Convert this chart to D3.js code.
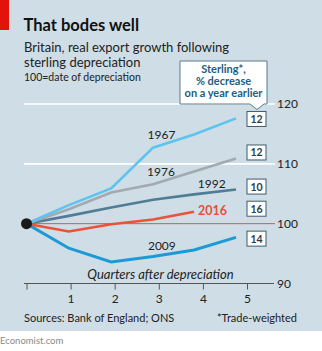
<!DOCTYPE html>
<html>
<head>
<meta charset="utf-8">
<script src="https://cdn.jsdelivr.net/npm/d3@7"></script>
<style>
	html, body { margin: 0; padding: 0; background: #fff; }
	svg { display: block; font-family: Lato, "Open Sans", sans-serif; }
</style>
</head>
<body>
<div id="chart"></div>
<script>
// Quarters after depreciation at which each reading sits
var quarters = [0, 0.96, 1.92, 2.87, 3.8, 4.75];

// Real exports, 100 = date of depreciation
var years = ["1967", "1976", "1992", "2016", "2009"];
var exports1967 = [100, 103.1, 105.9, 112.7, 114.9, 117.6];
var exports1976 = [100, 102.4, 105.2, 106.6, 108.7, 110.9];
var exports1992 = [100, 101.3, 102.7, 104.0, 104.9, 105.7];
var exports2016 = [100, 98.7, 99.9, 100.7, 102.0];
var exports2009 = [100, 95.9, 93.6, 94.5, 95.6, 97.7];

// Sterling, % decrease on a year earlier
var sterlingFall = [12, 12, 10, 16, 14];

var xTicks = [0, 1, 2, 3, 4, 5];
var yTicks = [90, 100, 110, 120];

(function(){

	var W = 322, H = 351;
	var series = [exports1967, exports1976, exports1992, exports2016, exports2009];

	var colors = {
		"1967": "#5cc4ee",
		"1976": "#a3a9b0",
		"1992": "#4f7c96",
		"2016": "#ea5338",
		"2009": "#1c9ad6"
	};

	// where the year names sit, in chart units
	var labelAt = {
		"1967": [3.06, 114.2],
		"1976": [3.05, 108.0],
		"1992": [4.2, 105.9],
		"2016": [4.22, 101.5],
		"2009": [3.07, 95.6]
	};
	// small vertical nudges for the sterling boxes
	var boxNudge = { "1967": -0.1, "1976": 1.0, "1992": 0.5, "2016": 0.5, "2009": -0.2 };

	var x = d3.scaleLinear().domain([0, 5]).range([26.5, 247]);
	var y = d3.scaleLinear().domain([90, 120]).range([283.5, 104]);

	var svg = d3.select("#chart").append("svg")
		.attr("width", W)
		.attr("height", H);

	// panel background and red tag
	svg.append("rect").attr("width", W).attr("height", 331).attr("fill", "#cfdde6");
	svg.append("rect").attr("width", 9).attr("height", 30).attr("fill", "#e3120b");

	svg.append("text").attr("x", 23.5).attr("y", 30.5)
		.attr("font-size", 16.5).attr("font-weight", "bold").attr("fill", "#111")
		.text("That bodes well");
	svg.append("text").attr("x", 24).attr("y", 52)
		.attr("font-size", 13).attr("fill", "#222")
		.text("Britain, real export growth following");
	svg.append("text").attr("x", 24).attr("y", 66.5)
		.attr("font-size", 13).attr("fill", "#222")
		.text("sterling depreciation");
	svg.append("text").attr("x", 24).attr("y", 81)
		.attr("font-size", 10.5).attr("fill", "#222")
		.text("100=date of depreciation");

	// white gridlines
	svg.selectAll("line.grid")
		.data([110, 120])
		.enter().append("line")
		.attr("class", "grid")
		.attr("x1", 24).attr("x2", 275)
		.attr("y1", function(d){ return y(d); })
		.attr("y2", function(d){ return y(d); })
		.attr("stroke", "#fff")
		.attr("stroke-width", 1.6);

	// 100 baseline
	svg.append("line")
		.attr("x1", x(0)).attr("x2", 275)
		.attr("y1", y(100)).attr("y2", y(100))
		.attr("stroke", "#e0534b")
		.attr("stroke-width", 1);

	// x axis
	svg.append("line")
		.attr("x1", 24).attr("x2", 274)
		.attr("y1", y(90)).attr("y2", y(90))
		.attr("stroke", "#555").attr("stroke-width", 1);

	var xAxis = d3.axisBottom(x)
		.tickValues(xTicks)
		.tickSize(6)
		.tickPadding(5)
		.tickFormat(function(d){ return d === 0 ? "" : d; });

	var gx = svg.append("g")
		.attr("transform", "translate(0," + y(90) + ")")
		.call(xAxis);
	gx.select(".domain").remove();
	gx.selectAll(".tick line").attr("stroke", "#555");
	gx.selectAll(".tick text")
		.attr("font-family", "Lato, sans-serif")
		.attr("font-size", 12)
		.attr("fill", "#222");

	svg.append("text").attr("x", 160.5).attr("y", 279)
		.attr("text-anchor", "middle")
		.attr("font-size", 13).attr("font-style", "italic").attr("fill", "#222")
		.text("Quarters after depreciation");

	// y axis labels on the right
	var yAxis = d3.axisRight(y).tickValues(yTicks).tickSize(0).tickPadding(0);
	var gy = svg.append("g")
		.attr("transform", "translate(277,0)")
		.call(yAxis);
	gy.select(".domain").remove();
	gy.selectAll(".tick text")
		.attr("font-family", "Lato, sans-serif")
		.attr("font-size", 12)
		.attr("fill", "#222");

	// export lines
	var line = d3.line()
		.x(function(d, i){ return x(quarters[i]); })
		.y(function(d){ return y(d); });

	var order = [4, 3, 2, 1, 0];
	order.forEach(function(i){
		svg.append("path")
			.datum(series[i])
			.attr("d", line)
			.attr("fill", "none")
			.attr("stroke", colors[years[i]])
			.attr("stroke-width", years[i] == "2009" ? 3 : 2.6)
			.attr("stroke-linejoin", "miter");
	});

	svg.append("circle")
		.attr("cx", x(quarters[0])).attr("cy", y(100))
		.attr("r", 5.5)
		.attr("fill", "#1a1a1a");

	// year names
	years.forEach(function(yr){
		svg.append("text")
			.attr("x", x(labelAt[yr][0]))
			.attr("y", y(labelAt[yr][1]))
			.attr("text-anchor", "middle")
			.attr("font-size", yr == "2016" ? 12.5 : 12)
			.attr("font-weight", yr == "2016" ? "bold" : "normal")
			.attr("fill", yr == "2016" ? "#e8503a" : "#222")
			.text(yr);
	});

	// sterling boxes beside the line ends
	years.forEach(function(yr, i){
		var last = series[i][series[i].length - 1];
		var cy = y(last + boxNudge[yr]);
		var g = svg.append("g").attr("transform", "translate(256.5," + cy + ")");
		g.append("rect")
			.attr("x", -9.5).attr("y", -7.5)
			.attr("width", 19).attr("height", 15)
			.attr("fill", "#fff")
			.attr("stroke", "#3e5b6b")
			.attr("stroke-width", 1);
		g.append("text")
			.attr("y", 4)
			.attr("text-anchor", "middle")
			.attr("font-size", 10.5).attr("font-weight", "bold").attr("fill", "#2a3e4a")
			.text(sterlingFall[i]);
	});

	// callout explaining the boxes
	svg.append("path")
		.attr("d", "M180,61 H267 V104 H264 L257,109.5 L250,104 H180 Z")
		.attr("fill", "#fff")
		.attr("stroke", "#587a8c")
		.attr("stroke-width", 1);
	["Sterling*,", "% decrease", "on a year earlier"].forEach(function(t, i){
		svg.append("text")
			.attr("x", 223.5).attr("y", 73 + i * 12)
			.attr("text-anchor", "middle")
			.attr("font-size", 11).attr("font-weight", "bold").attr("fill", "#1d5e84")
			.text(t);
	});

	// footer
	svg.append("text").attr("x", 24).attr("y", 322)
		.attr("font-size", 11).attr("fill", "#222")
		.text("Sources: Bank of England; ONS");
	svg.append("text").attr("x", 297).attr("y", 322)
		.attr("text-anchor", "end")
		.attr("font-size", 11).attr("fill", "#222")
		.text("*Trade-weighted");
	svg.append("text").attr("x", 0).attr("y", 344)
		.attr("font-size", 9.5).attr("fill", "#8a8a8a")
		.text("Economist.com");

})();
</script>
</body>
</html>
